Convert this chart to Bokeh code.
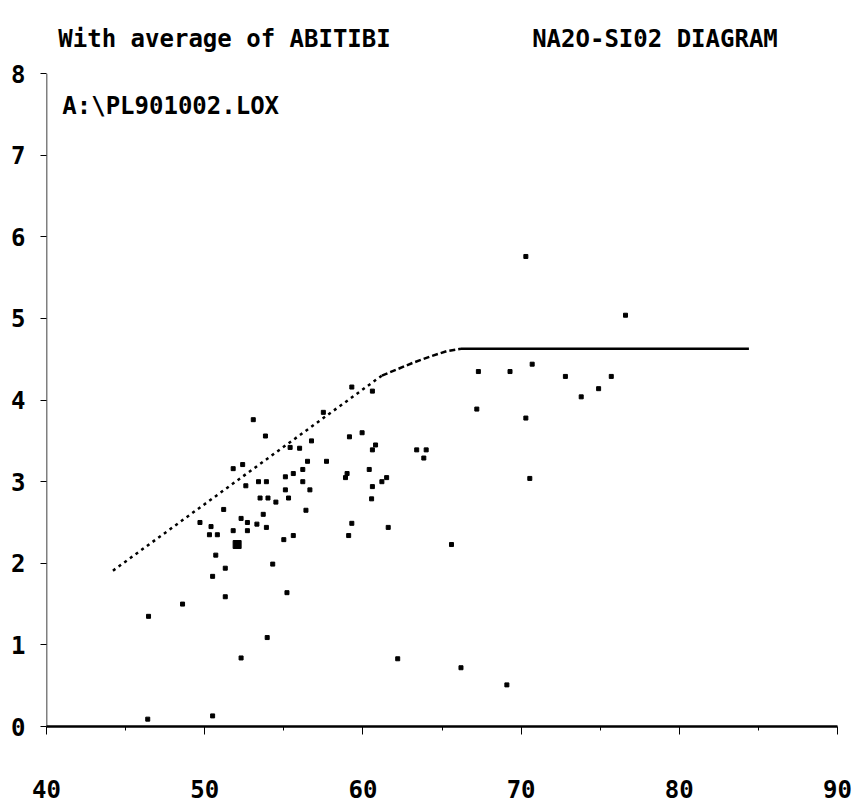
from bokeh.plotting import figure
from bokeh.models import Range1d, FixedTicker, Label
from bokeh.embed import file_html
from bokeh.resources import INLINE

# ---- data ----
sio2 = [53.07, 53.84, 55.4, 56.0, 51.8, 52.4, 52.6, 53.4, 53.9, 55.1,
        55.6, 56.2, 55.1, 53.5, 54.0, 54.5, 55.3, 51.2, 49.7, 50.4,
        50.3, 50.8, 52.3, 52.7, 53.3, 53.7, 53.9, 51.8, 52.7, 55.0,
        55.6, 50.7, 51.3, 50.5, 54.3, 51.3, 55.2, 59.3, 60.6, 57.5,
        56.75, 59.15, 59.95, 60.8, 60.6, 63.4, 64.0, 63.85, 67.2, 56.5,
        57.7, 59.0, 58.9, 60.4, 61.5, 61.2, 60.6, 60.55, 56.2, 56.65,
        56.4, 59.3, 59.1, 61.6, 65.6, 70.3, 76.6, 70.7, 67.3, 69.3,
        72.8, 75.7, 74.9, 73.8, 70.3, 70.55, 46.45, 48.6, 53.95, 52.3,
        62.2, 46.4, 50.5, 66.2, 69.1]
na2o = [3.76, 3.56, 3.42, 3.41, 3.16, 3.21, 2.95, 3.00, 3.00, 3.06,
        3.10, 3.15, 2.90, 2.80, 2.80, 2.75, 2.80, 2.66, 2.50, 2.45,
        2.35, 2.35, 2.55, 2.50, 2.48, 2.60, 2.44, 2.40, 2.40, 2.29,
        2.34, 2.10, 1.94, 1.84, 1.99, 1.59, 1.64, 4.16, 4.11, 3.85,
        3.50, 3.55, 3.60, 3.45, 3.39, 3.39, 3.39, 3.29, 3.89, 3.25,
        3.25, 3.10, 3.05, 3.15, 3.05, 3.00, 2.94, 2.79, 3.00, 2.90,
        2.65, 2.49, 2.34, 2.44, 2.23, 5.76, 5.04, 4.44, 4.35, 4.35,
        4.29, 4.29, 4.14, 4.04, 3.78, 3.04, 1.35, 1.50, 1.09, 0.84,
        0.83, 0.09, 0.13, 0.72, 0.51]

avg_sio2 = [52.05]
avg_na2o = [2.23]

boundary_x = [44.2, 61.2, 62.2, 63.2, 64.2, 65.3, 66.2, 84.4]
boundary_y = [1.91, 4.30, 4.38, 4.46, 4.53, 4.60, 4.63, 4.63]

x_ticks = [40, 50, 60, 70, 80, 90]
x_minor_ticks = [45, 55, 65, 75, 85]
y_ticks = [0, 1, 2, 3, 4, 5, 6, 7, 8]

title_left = "With average of ABITIBI"
title_right = "NA2O-SI02 DIAGRAM"
file_note = "A:\\PL901002.LOX"

FONT = "DejaVu Sans Mono"

# frame runs to the top of the page so the header texts sit inside it;
# the visible y axis line is drawn only from 0 to 8
p = figure(width=861, height=808, output_backend="svg", toolbar_location=None,
           x_range=Range1d(40, 90), y_range=Range1d(0, 8.897),
           min_border_left=46, min_border_right=24,
           min_border_top=0, min_border_bottom=82)
p.background_fill_color = "white"
p.border_fill_color = "white"
p.outline_line_color = None
p.xgrid.visible = False
p.ygrid.visible = False

xa = p.xaxis[0]
xa.ticker = FixedTicker(ticks=x_ticks, minor_ticks=x_minor_ticks)
xa.axis_line_width = 2.5
xa.axis_line_color = "black"
xa.major_tick_out = 8
xa.major_tick_in = 0
xa.minor_tick_out = 4
xa.minor_tick_in = 0
xa.major_tick_line_color = "black"
xa.minor_tick_line_color = "black"
xa.major_label_standoff = 45
xa.major_label_text_font = FONT
xa.major_label_text_font_size = "24px"
xa.major_label_text_font_style = "bold"
xa.major_label_text_color = "black"

ya = p.yaxis[0]
ya.ticker = FixedTicker(ticks=y_ticks)
ya.axis_line_color = None
ya.major_tick_out = 6
ya.major_tick_in = 0
ya.minor_tick_line_color = None
ya.major_tick_line_color = "black"
ya.major_label_standoff = 15
ya.major_label_text_font = FONT
ya.major_label_text_font_size = "24px"
ya.major_label_text_font_style = "bold"
ya.major_label_text_color = "black"

# y axis line from the first to the last y tick
p.segment(x0=[x_ticks[0]], y0=[y_ticks[0]], x1=[x_ticks[0]], y1=[y_ticks[-1]],
          line_color="black", line_width=1.5)

# boundary curve: dotted straight part, dashed bend, solid plateau
p.line(boundary_x[0:2], boundary_y[0:2], line_color="black", line_width=2.5,
       line_dash="3 4")
p.line(boundary_x[1:7], boundary_y[1:7], line_color="black", line_width=2.5,
       line_dash="6 3")
p.line(boundary_x[6:8], boundary_y[6:8], line_color="black", line_width=2.5)

p.scatter(sio2, na2o, marker="square", size=4, color="black")
p.scatter(avg_sio2, avg_na2o, marker="square", size=8, color="black")

for txt, x, y in [(title_left, 40.75, 8.42), (title_right, 70.7, 8.42),
                  (file_note, 41.0, 7.6)]:
    p.add_layout(Label(x=x, y=y, text=txt, text_font=FONT,
                       text_font_size="24px", text_font_style="bold",
                       text_color="black",
                       text_baseline="alphabetic", text_align="left"))

open("out.html", "w").write(file_html(p, INLINE))
